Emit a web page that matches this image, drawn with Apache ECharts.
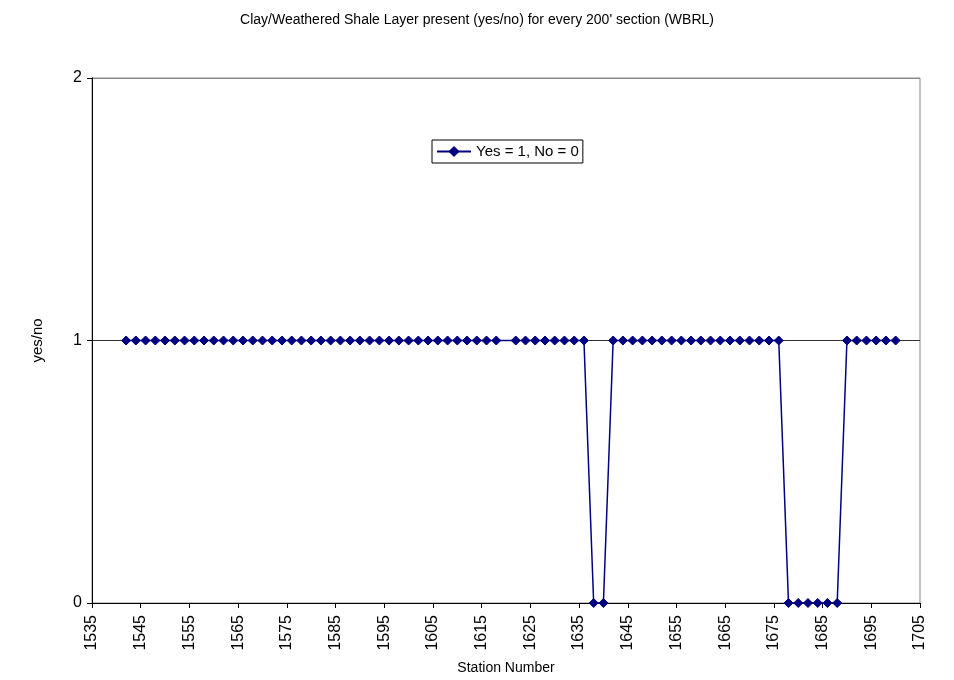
<!DOCTYPE html>
<html>
<head>
<meta charset="utf-8">
<script src="https://cdn.jsdelivr.net/npm/echarts@6/dist/echarts.min.js"></script>
<style>
  html, body { margin: 0; padding: 0; background: #fff; }
  #chart { width: 954px; height: 680px; }
</style>
</head>
<body>
<div id="chart"></div>
<script>
// Station numbers sampled every 200 ft (station 1620 has no reading)
const stations = [
  1542, 1544, 1546, 1548, 1550, 1552, 1554, 1556, 1558, 1560,
  1562, 1564, 1566, 1568, 1570, 1572, 1574, 1576, 1578, 1580,
  1582, 1584, 1586, 1588, 1590, 1592, 1594, 1596, 1598, 1600,
  1602, 1604, 1606, 1608, 1610, 1612, 1614, 1616, 1618,
  1622, 1624, 1626, 1628, 1630, 1632, 1634, 1636, 1638, 1640,
  1642, 1644, 1646, 1648, 1650, 1652, 1654, 1656, 1658, 1660,
  1662, 1664, 1666, 1668, 1670, 1672, 1674, 1676, 1678, 1680,
  1682, 1684, 1686, 1688, 1690, 1692, 1694, 1696, 1698, 1700
];
// Clay / weathered shale layer present: Yes = 1, No = 0
const present = [
  1, 1, 1, 1, 1, 1, 1, 1, 1, 1,
  1, 1, 1, 1, 1, 1, 1, 1, 1, 1,
  1, 1, 1, 1, 1, 1, 1, 1, 1, 1,
  1, 1, 1, 1, 1, 1, 1, 1, 1,
  1, 1, 1, 1, 1, 1, 1, 1, 0, 0,
  1, 1, 1, 1, 1, 1, 1, 1, 1, 1,
  1, 1, 1, 1, 1, 1, 1, 1, 0, 0,
  0, 0, 0, 0, 1, 1, 1, 1, 1, 1
];
const xStart = 1535;
const xEnd = 1705;
const xStep = 10;
const yTicks = [0, 1, 2];

const font = '"Liberation Sans", Arial, sans-serif';

// The x axis runs as an offset from the first station so ticks start at 1535
const points = stations.map((s, i) => [s - xStart, present[i]]);

const chart = echarts.init(document.getElementById('chart'), null, { renderer: 'canvas' });
chart.setOption({
  animation: false,
  backgroundColor: '#fff',
  title: {
    text: "Clay/Weathered Shale Layer present (yes/no) for every 200' section (WBRL)",
    left: 'center',
    top: 8,
    textStyle: { fontFamily: font, fontSize: 14, fontWeight: 'normal', color: '#000' }
  },
  legend: {
    data: ['Yes = 1, No = 0'],
    left: 432,
    top: 140,
    orient: 'horizontal',
    backgroundColor: '#fff',
    borderColor: '#000',
    borderWidth: 1,
    padding: [4, 4, 4, 4],
    itemWidth: 34,
    itemHeight: 14,
    itemGap: 4,
    textStyle: { fontFamily: font, fontSize: 15, color: '#000' }
  },
  grid: {
    left: 92, right: 34, top: 78, bottom: 77,
    outerBoundsMode: 'none',
    show: true,
    borderColor: '#888',
    borderWidth: 1
  },
  xAxis: {
    type: 'value',
    min: 0,
    max: xEnd - xStart,
    interval: xStep,
    name: 'Station Number',
    nameLocation: 'middle',
    nameGap: 58,
    nameTextStyle: { fontFamily: font, fontSize: 14, color: '#000' },
    axisLine: { show: true, onZero: false, lineStyle: { color: '#000', width: 1 } },
    axisTick: { show: true, inside: false, length: 5, lineStyle: { color: '#000' } },
    axisLabel: {
      rotate: 90,
      margin: 12,
      fontFamily: font,
      fontSize: 16,
      color: '#000',
      formatter: v => String(v + xStart)
    },
    splitLine: { show: false }
  },
  yAxis: {
    type: 'value',
    min: yTicks[0],
    max: yTicks[yTicks.length - 1],
    interval: 1,
    name: 'yes/no',
    nameLocation: 'middle',
    nameGap: 47,
    nameRotate: 90,
    nameTextStyle: { fontFamily: font, fontSize: 15, color: '#000' },
    axisLine: { show: true, lineStyle: { color: '#000', width: 1 } },
    axisTick: { show: true, inside: false, length: 5, lineStyle: { color: '#000' } },
    axisLabel: { margin: 10, fontFamily: font, fontSize: 16, color: '#000' },
    splitLine: { show: true, lineStyle: { color: ['#000', '#333', '#888'], width: 1 } }
  },
  series: [{
    name: 'Yes = 1, No = 0',
    type: 'line',
    data: points,
    symbol: 'diamond',
    symbolSize: 9,
    showAllSymbol: true,
    lineStyle: { color: '#000080', width: 1.5 },
    itemStyle: { color: '#000080', borderColor: '#000080' },
    z: 3
  }]
});
</script>
</body>
</html>
